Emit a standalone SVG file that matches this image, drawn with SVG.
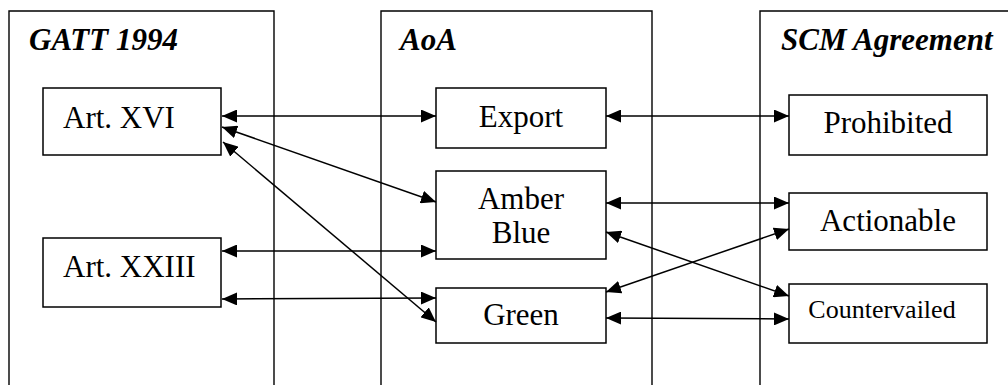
<svg xmlns="http://www.w3.org/2000/svg" width="1008" height="385" viewBox="0 0 1008 385">
<style>
.frame{fill:none;stroke:#000;stroke-width:1.4}
.box{fill:#fff;stroke:#000;stroke-width:1.5}
text{font-family:'Liberation Serif','DejaVu Serif',serif;fill:#000}
.t{font-size:31px}
.h{font-size:31px;font-weight:bold;font-style:italic}
.s{font-size:26px}
.c line{stroke:#000;stroke-width:1.5;marker-start:url(#ah);marker-end:url(#ah)}
</style>
<defs>
<marker id="ah" markerUnits="userSpaceOnUse" markerWidth="15" markerHeight="13" refX="15" refY="6.5" orient="auto-start-reverse" viewBox="0 0 15 13">
<path d="M0,0 L15,6.5 L0,13 z" fill="#000"/>
</marker>
</defs>
<g id="gatt"><path class="frame" d="M9,390 V11 H274 V390"/><text class="h" x="29" y="50">GATT 1994</text></g>
<g id="aoa"><path class="frame" d="M381,390 V11 H652 V390"/><text class="h" x="400" y="50">AoA</text></g>
<g id="scm"><path class="frame" d="M760,390 V11 H1012"/><text class="h" x="781" y="50">SCM Agreement</text></g>
<g id="art16"><rect class="box" x="43" y="88" width="178" height="67"/><text class="t" x="63" y="128">Art. XVI</text></g>
<g id="art23"><rect class="box" x="43" y="238" width="178" height="69"/><text class="t" x="63" y="277">Art. XXIII</text></g>
<g id="export"><rect class="box" x="436" y="88" width="170" height="60"/><text class="t" x="521" y="127" text-anchor="middle">Export</text></g>
<g id="amberblue"><rect class="box" x="436" y="171" width="170" height="88"/><text class="t" x="521" y="209" text-anchor="middle">Amber</text><text class="t" x="521" y="243" text-anchor="middle">Blue</text></g>
<g id="green"><rect class="box" x="436" y="288" width="170" height="55"/><text class="t" x="521" y="325" text-anchor="middle">Green</text></g>
<g id="prohibited"><rect class="box" x="789" y="95" width="198" height="60"/><text class="t" x="888" y="133" text-anchor="middle">Prohibited</text></g>
<g id="actionable"><rect class="box" x="789" y="193" width="198" height="57"/><text class="t" x="888" y="231" text-anchor="middle">Actionable</text></g>
<g id="countervailed"><rect class="box" x="789" y="284" width="198" height="59"/><text class="t s" x="882" y="318" text-anchor="middle">Countervailed</text></g>
<g id="connectors" class="c">
<line x1="222" y1="116" x2="436" y2="116"/>
<line x1="222" y1="127" x2="436" y2="202"/>
<line x1="223" y1="142" x2="436" y2="322"/>
<line x1="222" y1="251" x2="436" y2="251"/>
<line x1="222" y1="299" x2="436" y2="298"/>
<line x1="606" y1="116" x2="789" y2="116"/>
<line x1="606" y1="203" x2="789" y2="203"/>
<line x1="606" y1="232" x2="789" y2="296"/>
<line x1="606" y1="292" x2="789" y2="229"/>
<line x1="606" y1="318" x2="789" y2="319"/>
</g>
</svg>
